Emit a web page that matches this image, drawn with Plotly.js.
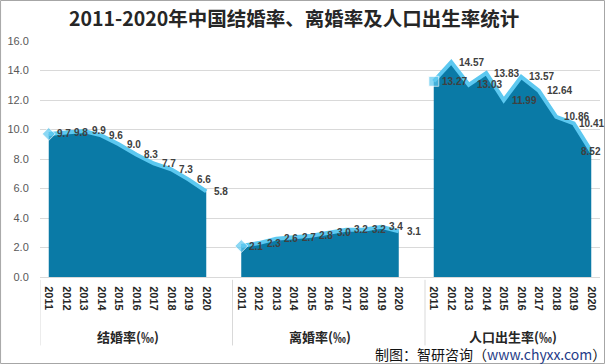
<!DOCTYPE html>
<html>
<head>
<meta charset="utf-8">
<script src="https://cdn.plot.ly/plotly-3.0.1.min.js"></script>
<style>html,body{margin:0;padding:0;background:#fff;}#chart{width:605px;height:364px;}</style>
</head>
<body>
<div id="chart"></div>
<script>
// ---- data ----
const years = ['2011','2012','2013','2014','2015','2016','2017','2018','2019','2020'];
const groupNames = ['结婚率(‰)', '离婚率(‰)', '人口出生率(‰)'];
const marriageRate = [9.7, 9.8, 9.9, 9.6, 9.0, 8.3, 7.7, 7.3, 6.6, 5.8];
const divorceRate  = [2.1, 2.3, 2.6, 2.7, 2.8, 3.0, 3.2, 3.2, 3.4, 3.1];
const birthRate    = [13.27, 14.57, 13.03, 13.83, 11.99, 13.57, 12.64, 10.86, 10.41, 8.52];
const yTicks = [0, 2, 4, 6, 8, 10, 12, 14, 16];

const series = [
  {values: marriageRate, digits: 1, start: 0, symbol: 'diamond'},
  {values: divorceRate,  digits: 1, start: 11, symbol: 'diamond'},
  {values: birthRate,    digits: 2, start: 22, symbol: 'square'}
];

const areaColor = '#0A7AA6';
const lineColor = '#5CC8F0';

const traces = [];
const annotations = [];
const tickvals = [];
const ticktext = [];
const shapes = [];

series.forEach((s, gi) => {
  const xs = years.map((_, i) => s.start + i);
  xs.forEach((x, i) => { tickvals.push(x); ticktext.push(years[i]); });
  traces.push({
    x: xs, y: s.values, type: 'scatter', mode: 'lines',
    fill: 'tozeroy', fillcolor: areaColor, line: {width: 0, color: areaColor},
    hoverinfo: 'skip', showlegend: false
  });
  traces.push({
    x: xs, y: s.values, type: 'scatter', mode: 'lines+markers',
    line: {color: lineColor, width: 4},
    marker: {symbol: s.symbol, color: lineColor, size: s.values.map((_, i) => i === 0 ? 10 : 0)},
    showlegend: false
  });
  const lastGroup = gi === series.length - 1;
  s.values.forEach((v, i) => {
    const isLast = i === s.values.length - 1;
    let anchor = 'left', shift = 6;
    if (lastGroup && isLast) { anchor = 'center'; shift = 0; }
    else if (lastGroup && i === s.values.length - 2) { shift = 3; }
    annotations.push({
      x: xs[i], y: v, xref: 'x', yref: 'y', text: v.toFixed(s.digits),
      showarrow: false, xanchor: anchor, yanchor: 'middle', xshift: shift,
      font: {family: 'Liberation Sans, Arial, sans-serif', size: 10, color: '#404040', weight: 700}
    });
  });
  // group label
  annotations.push({
    x: s.start + 4.5, y: -0.25, xref: 'x', yref: 'paper', text: groupNames[gi],
    showarrow: false, xanchor: 'center', yanchor: 'middle',
    font: {family: 'Noto Sans CJK SC, sans-serif', size: 13, color: '#262626', weight: 700}
  });
  // separator
  shapes.push({
    type: 'line', xref: 'x', yref: 'paper', x0: s.start - 0.5, x1: s.start - 0.5,
    y0: -0.012, y1: -0.29, line: {color: '#d9d9d9', width: 1}
  });
});

// source
annotations.push({
  x: 1, y: -0.325, xref: 'paper', yref: 'paper', xanchor: 'right', yanchor: 'middle',
  showarrow: false, xshift: 8,
  text: '制图：智研咨询（<span style="color:#1F3C88">www.chyxx.com</span>）',
  font: {family: 'Noto Sans CJK SC, sans-serif', size: 14, color: '#111'}
});

// outer border
shapes.push({
  type: 'rect', xref: 'paper', yref: 'paper',
  x0: -40/560 + 0.001, x1: 1 + 4.5/560, y0: -86.5/236, y1: 1 + 40.5/236,
  line: {color: '#a6a6a6', width: 1}
});

const layout = {
  width: 605, height: 364,
  margin: {l: 40, r: 5, t: 41, b: 87},
  paper_bgcolor: '#fff', plot_bgcolor: '#fff',
  title: {
    text: '2011-2020年中国结婚率、离婚率及人口出生率统计',
    x: 0.486, xanchor: 'center', xref: 'container',
    y: 1 - 19/364, yanchor: 'middle', yref: 'container',
    font: {family: 'Noto Sans CJK SC, sans-serif', size: 19.5, color: '#262626', weight: 700}
  },
  xaxis: {
    range: [-0.5, 31.5], tickmode: 'array', tickvals: tickvals, ticktext: ticktext,
    tickangle: 90, ticks: 'outside', ticklen: 6, tickcolor: 'rgba(0,0,0,0)',
    tickfont: {family: 'Liberation Sans, Arial, sans-serif', size: 11, color: '#262626', weight: 700},
    showgrid: false, zeroline: false, showline: true, linecolor: '#d9d9d9', linewidth: 1
  },
  yaxis: {
    range: [0, 16], tickmode: 'array', tickvals: yTicks, ticktext: yTicks.map(v => v.toFixed(1)),
    tickfont: {family: 'Liberation Sans, Arial, sans-serif', size: 11, color: '#595959'},
    showgrid: true, gridcolor: '#d9d9d9', gridwidth: 1, zeroline: false,
    ticks: 'outside', ticklen: 8, tickcolor: 'rgba(0,0,0,0)'
  },
  annotations: annotations,
  shapes: shapes
};

Plotly.newPlot('chart', traces, layout, {displayModeBar: false, staticPlot: true});
</script>
</body>
</html>
